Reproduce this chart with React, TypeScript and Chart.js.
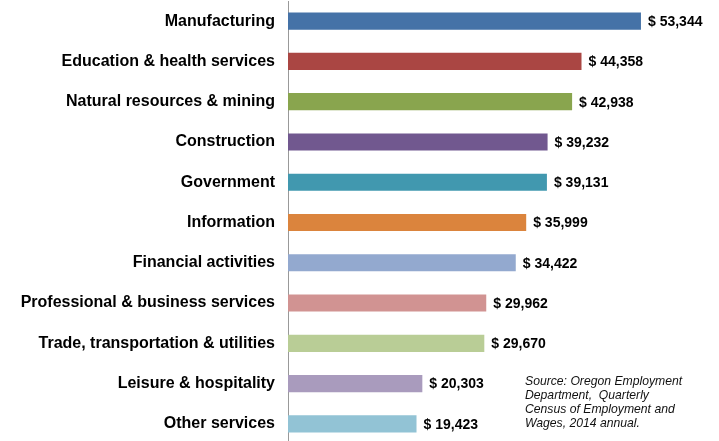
import React, { useEffect, useRef } from "react";
import { Chart, registerables } from "chart.js";

Chart.register(...registerables);

const categories = [
  "Manufacturing",
  "Education & health services",
  "Natural resources & mining",
  "Construction",
  "Government",
  "Information",
  "Financial activities",
  "Professional & business services",
  "Trade, transportation & utilities",
  "Leisure & hospitality",
  "Other services",
];

const wages = [53344, 44358, 42938, 39232, 39131, 35999, 34422, 29962, 29670, 20303, 19423];

const barColors = [
  "#4572A7",
  "#AA4643",
  "#89A54E",
  "#71588F",
  "#4198AF",
  "#DB843D",
  "#93A9CF",
  "#D19392",
  "#B9CD96",
  "#A99BBD",
  "#92C3D5",
];

const sourceLines = [
  "Source: Oregon Employment",
  "Department,  Quarterly",
  "Census of Employment and",
  "Wages, 2014 annual.",
];

const FONT = '"Liberation Sans", Arial, Helvetica, sans-serif';

const fmt = (v: number) => "$ " + v.toLocaleString("en-US");

const labelPlugin = {
  id: "valueLabels",
  afterDatasetsDraw(chart: any) {
    const ctx = chart.ctx;
    const meta = chart.getDatasetMeta(0);
    ctx.save();
    ctx.font = `bold 14px ${FONT}`;
    ctx.fillStyle = "#000";
    ctx.textAlign = "left";
    ctx.textBaseline = "middle";
    meta.data.forEach((el: any, i: number) => {
      ctx.fillText(fmt(wages[i]), el.x + 7, el.y + 1);
    });
    ctx.font = `italic 12.2px ${FONT}`;
    ctx.fillStyle = "#111";
    sourceLines.forEach((line, i) => {
      ctx.fillText(line, 525, 382 + i * 14);
    });
    ctx.restore();
  },
};

export default function App() {
  const ref = useRef<HTMLCanvasElement | null>(null);

  useEffect(() => {
    if (!ref.current) return;
    const chart = new Chart(ref.current, {
      type: "bar",
      data: {
        labels: categories,
        datasets: [
          {
            data: wages,
            backgroundColor: barColors,
            borderWidth: 0,
            barPercentage: 0.425,
            categoryPercentage: 1,
          },
        ],
      },
      options: {
        indexAxis: "y",
        responsive: false,
        animation: false,
        layout: { padding: { top: 1, bottom: 1, left: 0, right: 34 } },
        plugins: {
          legend: { display: false },
          tooltip: { enabled: false },
        },
        scales: {
          x: {
            display: false,
            min: 0,
            max: 60000,
          },
          y: {
            afterFit: (s: any) => {
              s.width = 288;
              s.paddingTop = 0;
              s.paddingBottom = 0;
            },
            grid: { display: false, drawTicks: false },
            border: { display: true, color: "#999999", width: 1 },
            ticks: {
              padding: 13,
              color: "#000",
              font: { family: FONT, size: 16, weight: "bold" },
            },
          },
        },
      },
      plugins: [labelPlugin],
    });
    return () => chart.destroy();
  }, []);

  return (
    <div
      style={{
        position: "fixed",
        left: 0,
        top: 0,
        width: 719,
        height: 441,
        overflow: "hidden",
        background: "#fff",
      }}
    >
      <canvas
        ref={ref}
        width={719}
        height={445}
        style={{ position: "absolute", left: 0, top: 0, width: 719, height: 445 }}
      />
    </div>
  );
}
